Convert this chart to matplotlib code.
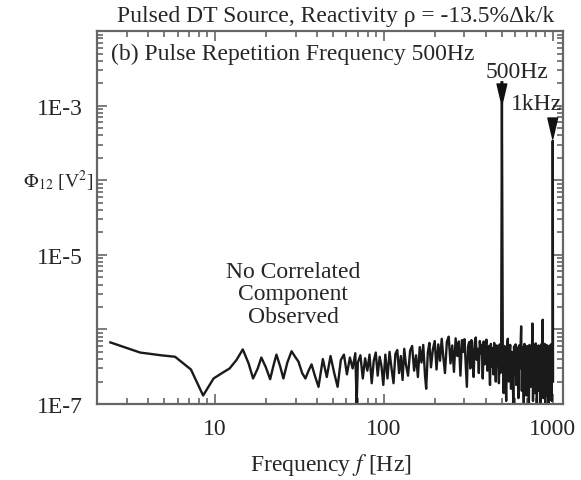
import matplotlib
matplotlib.use("Agg")
import matplotlib.pyplot as plt
from matplotlib.ticker import FixedLocator, FixedFormatter, LogLocator, NullFormatter

plt.rcParams['font.family'] = ['Liberation Serif', 'DejaVu Serif']
plt.rcParams['mathtext.fontset'] = 'stix'

# spectrum, values in units of 1e-7 V^2
f_low = [2.4, 3.6, 4.8, 5.8, 7.2, 8.5, 9.8, 11.0, 12.2, 13.4,
         14.6, 15.8, 16.8, 17.9, 18.8, 20.0, 21.2, 22.2, 23.1, 24.3,
         25.4, 26.8, 28.4, 29.8, 31.2, 32.8, 34.3, 35.8, 37.3, 39.0, 41.0]
v_low = [6.7, 4.9, 4.5, 4.3, 2.9, 1.3, 2.2, 2.6, 3.0, 3.9,
         5.4, 3.5, 2.2, 3.0, 4.2, 3.1, 2.15, 3.3, 4.6, 3.2,
         2.2, 3.6, 5.1, 4.3, 3.7, 2.6, 2.2, 2.8, 3.4, 2.4, 1.7]

f_b = [43.5, 45.9, 48.3, 50.8, 53.2, 55.6, 58.0, 60.4, 62.9, 65.3,
       67.7, 69.0, 70.1, 72.6, 75.0, 77.4, 79.8, 82.2, 84.7, 87.1,
       89.5, 91.9, 94.4, 96.8, 99.2]
v_b = [4.0, 2.3, 4.4, 2.6, 1.7, 3.9, 4.6, 2.5, 4.2, 3.0,
       4.8, 1.0, 3.6, 4.5, 2.2, 4.1, 2.8, 4.6, 1.9, 3.8,
       4.9, 2.4, 4.3, 3.2, 1.8]

f_c = [102, 105, 108, 111, 114, 117, 120, 123, 126, 129,
       132, 135, 139, 143, 147, 151, 155, 159, 163, 167,
       171, 175, 178, 182, 186, 190, 195, 200, 205, 210,
       215, 220, 225, 230, 236, 242, 248, 254, 260, 266,
       272, 278, 284, 290, 296]
v_c = [4.6, 2.2, 5.0, 3.0, 1.9, 4.7, 5.3, 2.6, 4.4, 2.1,
       5.5, 3.4, 2.4, 5.2, 6.0, 2.8, 4.5, 2.3, 5.8, 3.6,
       6.2, 2.5, 1.6, 4.9, 6.6, 3.1, 5.4, 7.0, 2.9, 6.3,
       3.8, 7.5, 4.2, 2.6, 6.8, 8.0, 3.5, 6.1, 2.7, 7.6,
       4.4, 6.9, 2.4, 7.2, 5.0]

f_d = [300, 305, 310, 315, 320, 325, 330, 335, 340, 345,
       350, 355, 360, 365, 370, 375, 380, 385, 390, 395,
       400, 405, 410, 415, 420, 425, 430, 435, 440, 445,
       450, 455, 460, 465, 470, 475, 480, 485, 490, 495,
       500]
v_d = [7.4, 3.6, 1.7, 5.9, 6.8, 3.0, 7.2, 4.5, 2.3, 6.6,
       7.8, 3.9, 5.5, 2.6, 7.0, 4.8, 6.2, 2.2, 6.9, 3.4,
       5.8, 7.3, 2.8, 6.0, 4.1, 1.8, 6.4, 3.2, 5.6, 2.5,
       6.6, 4.6, 2.0, 6.1, 3.3, 5.4, 1.9, 6.3, 2.6, 5.8,
       11000]

f_e = [506, 512, 518, 524, 530, 536, 542, 548, 554, 560,
       566, 572, 578, 584, 590, 596, 602, 608, 614, 620,
       626, 632, 638, 644, 650, 656, 662, 668, 674, 680,
       686, 692, 698, 704, 710, 716, 722, 728, 734, 740,
       746, 752, 758, 764, 770, 776, 782, 788, 794, 800,
       806, 812, 818, 824, 830, 836, 842, 848, 854, 860,
       866, 872, 878, 884, 890, 896, 902, 908, 914, 920,
       926, 932, 938, 944, 950, 956, 962, 968, 974, 980,
       986, 992, 998, 1000, 1004]
v_e = [5.2, 1.4, 6.0, 3.1, 1.1, 5.6, 7.5, 2.0, 4.8, 6.2,
       1.6, 5.0, 3.4, 1.0, 5.9, 2.7, 6.3, 1.8, 4.6, 5.7,
       1.2, 6.1, 3.0, 5.4, 11.0, 1.5, 5.8, 2.2, 1.0, 6.4,
       3.6, 5.1, 1.3, 6.0, 2.5, 5.5, 1.0, 6.2, 3.3, 1.7,
       5.9, 4.0, 12.0, 1.1, 6.3, 2.8, 5.2, 1.4, 6.5, 3.2,
       1.0, 5.7, 2.4, 6.1, 1.5, 5.4, 3.7, 1.0, 6.3, 2.1,
       5.6, 13.5, 1.2, 5.9, 3.0, 6.4, 1.0, 4.9, 2.6, 6.2,
       1.3, 5.5, 3.5, 1.0, 6.0, 2.2, 5.7, 1.6, 6.3, 3.1,
       1.1, 5.8, 2.5, 3400, 2.0]

freq = f_low + f_b + f_c + f_d + f_e
phi = [v * 1e-7 for v in v_low + v_b + v_c + v_d + v_e]

fig = plt.figure(figsize=(5.81, 4.81), dpi=100)
ax = fig.add_axes([0.167, 0.158, 0.802, 0.775])

ax.plot(freq, phi, color='#1a1a1a', lw=1.7)

ax.set_xscale('log')
ax.set_yscale('log')
ax.set_xlim(2, 1150)
ax.set_ylim(1e-7, 1e-2)

ax.yaxis.set_major_locator(FixedLocator([1e-7, 1e-6, 1e-5, 1e-4, 1e-3, 1e-2]))
ax.yaxis.set_major_formatter(FixedFormatter(['1E-7', '', '1E-5', '', '1E-3', '']))
ax.yaxis.set_minor_locator(LogLocator(base=10, subs=range(2, 10), numticks=20))
ax.yaxis.set_minor_formatter(NullFormatter())
ax.xaxis.set_major_locator(FixedLocator([10, 100, 1000]))
ax.xaxis.set_major_formatter(FixedFormatter(['10', '100', '1000']))
ax.xaxis.set_minor_locator(LogLocator(base=10, subs=range(2, 10), numticks=20))
ax.xaxis.set_minor_formatter(NullFormatter())

txt = '#262626'
ax.tick_params(which='both', direction='in', top=True, right=True,
               colors='#666666', labelcolor=txt, labelsize=17, width=1.2)
ax.tick_params(which='major', length=7, pad=10)
ax.tick_params(which='minor', length=4)
for s in ax.spines.values():
    s.set_color('#666666')
    s.set_linewidth(1.6)

fig.text(0.578, 0.965, 'Pulsed DT Source, Reactivity ρ = -13.5%Δk/k',
         ha='center', va='center', fontsize=17, color=txt)
ax.text(0.03, 0.94, '(b) Pulse Repetition Frequency 500Hz', transform=ax.transAxes,
        ha='left', va='center', fontsize=17, color=txt)
ax.text(29, 3.0e-6, 'No Correlated\nComponent\nObserved', ha='center', va='center',
        fontsize=17, color=txt, linespacing=1.1)

fig.text(0.1, 0.622, r'$\Phi_{12}$ [V$^2$]', ha='center', va='center',
         fontsize=14, color=txt)
fig.text(0.57, 0.033, r'Frequency $f$ [Hz]', ha='center', va='center',
         fontsize=17, color=txt)

arrow = dict(width=1.2, headwidth=7, headlength=15, color='#111111', shrink=0)
ax.annotate('', xy=(500, 1.03e-3), xytext=(500, 2.1e-3), arrowprops=arrow)
ax.annotate('', xy=(1000, 3.6e-4), xytext=(1000, 6.3e-4), arrowprops=arrow)
ax.text(616, 2.9e-3, '500Hz', ha='center', va='center', fontsize=17, color=txt)
ax.text(803, 1.07e-3, '1kHz', ha='center', va='center', fontsize=17, color=txt)

fig.savefig('out.png', dpi=100)
plt.close(fig)
